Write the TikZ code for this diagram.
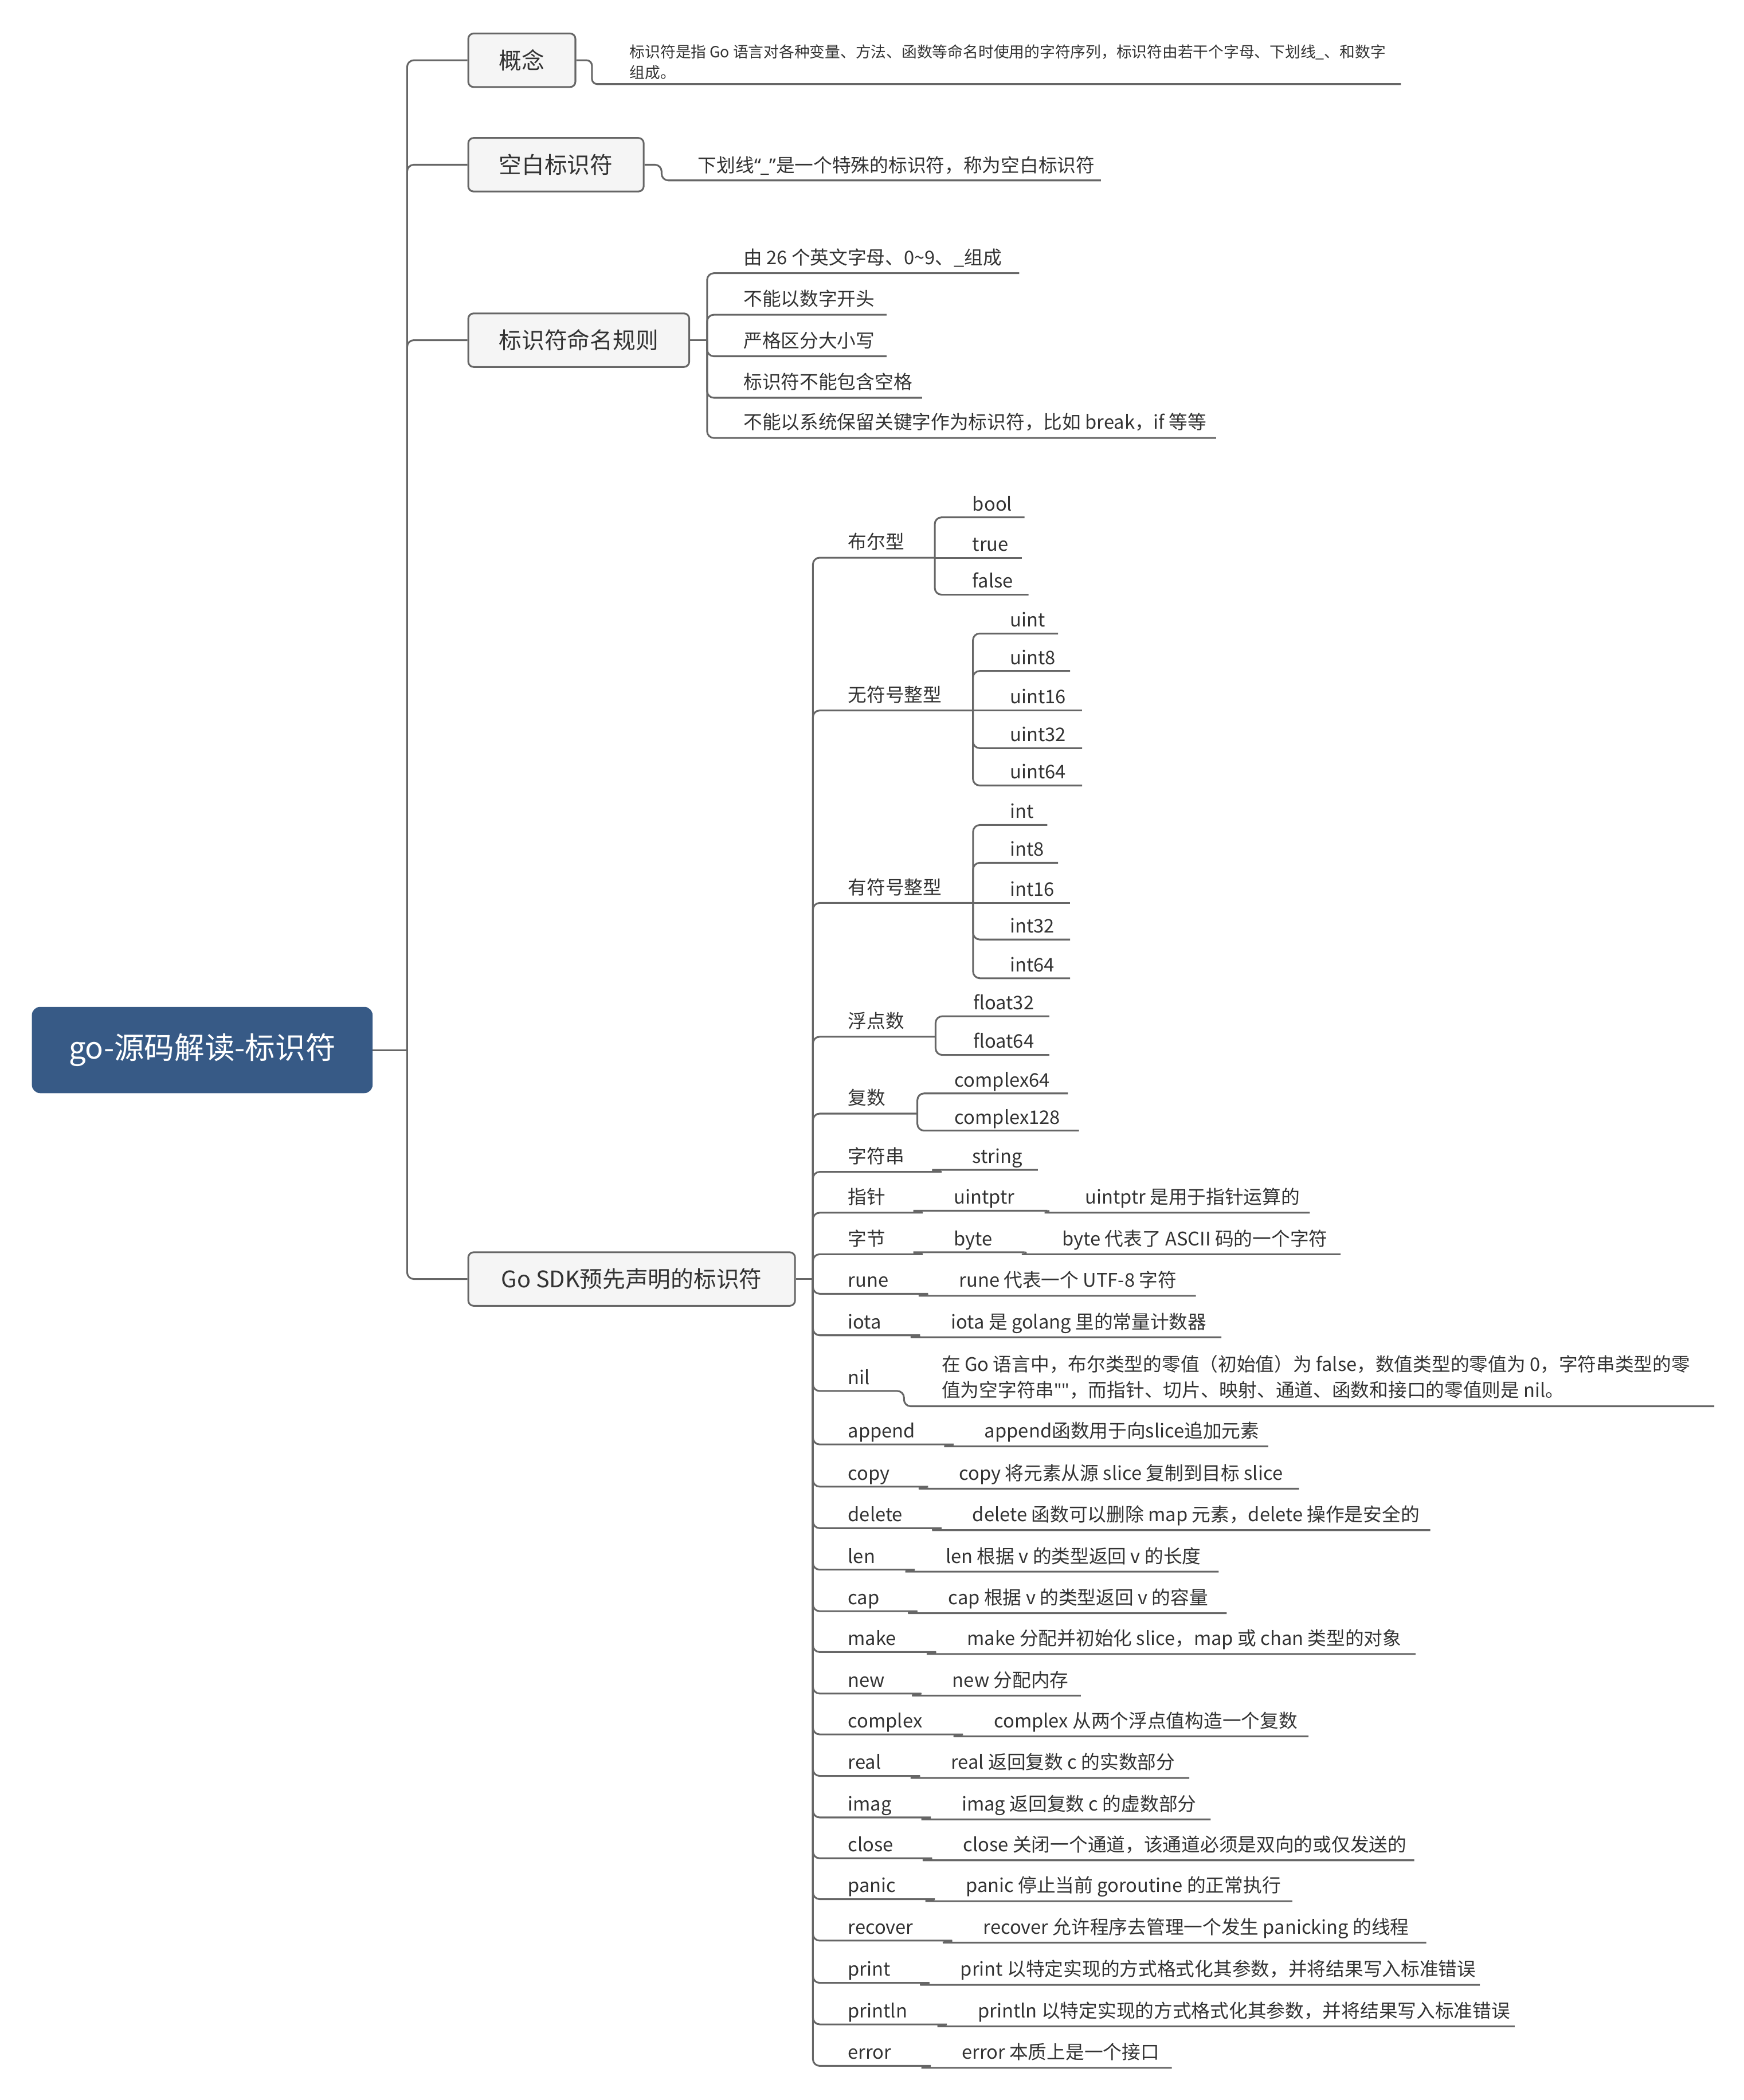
\documentclass[tikz,border=0pt]{standalone}
\usepackage{fontspec}
\setmainfont{Noto Sans CJK SC}[Ligatures=TeXOff]
\newfontfamily\latinq{Noto Sans}

\definecolor{linegray}{HTML}{666666}
\definecolor{boxfill}{HTML}{F5F5F5}
\definecolor{inkgray}{HTML}{333333}
\definecolor{rootblue}{HTML}{375A86}

\tikzset{
  conn/.style={draw=linegray, line width=1.3pt, rounded corners=5pt},
  rootbox/.style={fill=rootblue, draw=rootblue, rounded corners=6pt,
    minimum width=254pt, minimum height=64pt, inner sep=0pt,
    text=white, font=\fontsize{22.5}{26}\selectfont},
  topic/.style={anchor=west, fill=boxfill, draw=linegray, line width=1.3pt,
    rounded corners=4pt, minimum height=40pt, inner xsep=14pt, inner ysep=0pt,
    text=inkgray, font=\fontsize{17}{20}\selectfont},
  leaf/.style={anchor=base west, inner sep=0pt, text=inkgray,
    font=\fontsize{14}{17}\selectfont},
  note/.style={anchor=base west, inner sep=0pt, text=inkgray,
    font=\fontsize{11.45}{14}\selectfont},
}

% a child of a sub-group: text, underline end, connector from the group hub
\newcommand\subleaf[6]{%
  \node[leaf] (#1) at (#3,#4-5) {#6};
  \coordinate (#1-e) at (#5,#4);
  \draw[conn] (#2) |- (#1-e);
}
% same, for the child level with the hub
\newcommand\subleafflat[6]{%
  \node[leaf] (#1) at (#3,#4-5) {#6};
  \coordinate (#1-e) at (#5,#4);
  \draw[conn] (#2) -- (#1-e);
}
% a keyword row: label, its explanation, and the underline joining them
% #1 id, #2 centre y, #3 label, #4 label underline offset, #5 text x,
% #6 text, #7 underline end, #8 text underline offset
\newcommand\kvrow[8]{%
  \pgfmathsetmacro\rowb{#2+5}%
  \pgfmathsetmacro\rowl{#2+5+#4}%
  \pgfmathsetmacro\rowd{#2+5+#8}%
  \pgfmathsetmacro\rowj{#5-28}%
  \pgfmathsetmacro\rowk{#5-25}%
  \node[leaf] (#1) at (633,\rowb) {#3};
  \node[leaf] (#1-d) at (#5,\rowb) {#6};
  \coordinate (#1-j) at (\rowj,\rowl);
  \coordinate (#1-k) at (\rowk,\rowd);
  \coordinate (#1-e) at (#7,\rowd);
  \draw[conn] (shub) |- (#1-j) .. controls +(2,0) and +(-2,0) .. (#1-k) -- (#1-e);
}

\begin{document}
\begin{tikzpicture}[x=1pt,y=-1pt]
\fill[white] (0,0) rectangle (1302,1568);
\useasboundingbox (0,0) rectangle (1302,1568);

% ---------- root and main topics ----------
\node[rootbox] (root) at (151,784) {go-源码解读-标识符};
\coordinate (hub0) at (304,784);

\node[topic, minimum width=80pt]  (concept) at (349,45)  {概念};
\node[topic, minimum width=131pt] (blank)   at (349,123) {空白标识符};
\node[topic, minimum width=165pt] (rules)   at (349,254) {标识符命名规则};
\node[topic, minimum width=244pt] (sdk)     at (349,955) {Go SDK预先声明的标识符};

\draw[conn] (root.east) -- (hub0);
\foreach \t in {concept,blank,rules,sdk}
  \draw[conn] (hub0) |- (\t.west);

% ---------- 概念 ----------
\coordinate (concept-t) at (442,45);
\coordinate (concept-e) at (1046,62.8);
\node[note] (concept-d1) at (470,42.9) {标识符是指 Go 语言对各种变量、方法、函数等命名时使用的字符序列，标识符由若干个字母、下划线\_、和数字};
\node[note] (concept-d2) at (470,58.6) {组成。};
\draw[conn, rounded corners=4pt] (concept.east) -- (concept-t) |- (concept-e);

% ---------- 空白标识符 ----------
\coordinate (blank-t) at (494,123);
\coordinate (blank-e) at (822,134.7);
\node[leaf] (blank-d) at (521,128.4) {下划线{\latinq “\_”}是一个特殊的标识符，称为空白标识符};
\draw[conn] (blank.east) -- (blank-t) |- (blank-e);

% ---------- 标识符命名规则 ----------
\coordinate (rhub) at (528,254);
\draw[conn] (rules.east) -- (rhub);
\node[leaf] (r1) at (555,197.5) {由 26 个英文字母、0\textasciitilde 9、\_组成};
\node[leaf] (r2) at (555,228.5) {不能以数字开头};
\node[leaf] (r3) at (555,259.5) {严格区分大小写};
\node[leaf] (r4) at (555,290.5) {标识符不能包含空格};
\node[leaf] (r5) at (555,320.5) {不能以系统保留关键字作为标识符，比如 break，if 等等};
\coordinate (r1-e) at (761,204);
\coordinate (r2-e) at (662,235);
\coordinate (r3-e) at (662,266);
\coordinate (r4-e) at (688.5,297);
\coordinate (r5-e) at (908,327);
\foreach \r in {r1,r2,r3,r4,r5}
  \draw[conn] (rhub) |- (\r-e);

% ---------- Go SDK 预先声明的标识符 ----------
\coordinate (shub) at (607,955);
\draw[conn] (sdk.east) -- (shub);

% 布尔型
\coordinate (g1-j) at (698,416.4);
\node[leaf] (g1) at (633,409.9) {布尔型};
\draw[conn] (shub) |- (g1-j);
\subleaf{b-bool}{g1-j}{726}{386.3}{765}{bool}
\subleafflat{b-true}{g1-j}{726}{416.4}{763}{true}
\subleaf{b-false}{g1-j}{726}{444}{768}{false}

% 无符号整型
\coordinate (g2-j) at (726.5,530.5);
\node[leaf] (g2) at (633,524) {无符号整型};
\draw[conn] (shub) |- (g2-j);
\subleaf{u-0}{g2-j}{754}{473}{790}{uint}
\subleaf{u-8}{g2-j}{754}{501}{799}{uint8}
\subleafflat{u-16}{g2-j}{754}{530.5}{808}{uint16}
\subleaf{u-32}{g2-j}{754}{558.6}{808}{uint32}
\subleaf{u-64}{g2-j}{754}{586.5}{808}{uint64}

% 有符号整型
\coordinate (g3-j) at (726.6,674.2);
\node[leaf] (g3) at (633,667.7) {有符号整型};
\draw[conn] (shub) |- (g3-j);
\subleaf{i-0}{g3-j}{754}{616}{782}{int}
\subleaf{i-8}{g3-j}{754}{644.2}{790}{int8}
\subleafflat{i-16}{g3-j}{754}{674.2}{799}{int16}
\subleaf{i-32}{g3-j}{754}{701.5}{799}{int32}
\subleaf{i-64}{g3-j}{754}{730.4}{799}{int64}

% 浮点数
\coordinate (g4-j) at (698.6,774.1);
\node[leaf] (g4) at (633,767.6) {浮点数};
\draw[conn] (shub) |- (g4-j);
\subleaf{f-32}{g4-j}{726.6}{758.8}{783.5}{float32}
\subleaf{f-64}{g4-j}{726.6}{787.7}{783.5}{float64}

% 复数
\coordinate (g5-j) at (685,831.5);
\node[leaf] (g5) at (633,825) {复数};
\draw[conn] (shub) |- (g5-j);
\subleaf{c-64}{g5-j}{712.7}{816.4}{797.4}{complex64}
\subleaf{c-128}{g5-j}{712.7}{844.2}{805.6}{complex128}

% 字符串 / 指针 / 字节
\kvrow{str}{863.5}{字符串}{6.5}{726}{string}{775}{5}
\kvrow{ptr}{894}{指针}{6.5}{712}{uintptr}{782}{5}
\node[leaf] (ptr-dd) at (810,899) {uintptr 是用于指针运算的};
\coordinate (ptr-k2) at (785,905.5);
\coordinate (ptr-e2) at (978,905.5);
\draw[conn] (ptr-e) .. controls +(2,0) and +(-2,0) .. (ptr-k2) -- (ptr-e2);
\kvrow{byte}{925}{字节}{6.5}{712}{byte}{765}{5}
\node[leaf] (byte-dd) at (793,930) {byte 代表了 ASCII 码的一个字符};
\coordinate (byte-k2) at (768,936.5);
\coordinate (byte-e2) at (1001,936.5);
\draw[conn] (byte-e) .. controls +(2,0) and +(-2,0) .. (byte-k2) -- (byte-e2);

\kvrow{rune}{956}{rune}{5}{716}{rune 代表一个 UTF-8 字符}{893}{6.5}
\kvrow{iota}{987}{iota}{5}{710}{iota 是 golang 里的常量计数器}{912}{6.5}

% nil
\node[leaf] (nil) at (633,1033.6) {nil};
\node[leaf] (nil-d1) at (703,1024) {在 Go 语言中，布尔类型的零值（初始值）为 false，数值类型的零值为 0，字符串类型的零};
\node[leaf] (nil-d2) at (703,1043.2) {值为空字符串{\latinq ""}，而指针、切片、映射、通道、函数和接口的零值则是 nil。};
\coordinate (nil-j) at (675,1038.6);
\coordinate (nil-e) at (1280,1050);
\draw[conn] (shub) |- (nil-j) |- (nil-e);

\kvrow{append}{1068.5}{append}{5}{735}{append函数用于向slice追加元素}{947}{6.5}
\kvrow{copy}{1100}{copy}{5}{716}{copy 将元素从源 slice 复制到目标 slice}{970}{6.5}
\kvrow{delete}{1131}{delete}{5}{726}{delete 函数可以删除 map 元素，delete 操作是安全的}{1068}{6.5}
\kvrow{len}{1162}{len}{5}{706}{len 根据 v 的类型返回 v 的长度}{910}{6.5}
\kvrow{cap}{1193}{cap}{5}{708}{cap 根据 v 的类型返回 v 的容量}{916}{6.5}
\kvrow{make}{1223.5}{make}{5}{722}{make 分配并初始化 slice，map 或 chan 类型的对象}{1057}{6.5}
\kvrow{new}{1254.5}{new}{5}{711}{new 分配内存}{807}{6.5}
\kvrow{complex}{1285}{complex}{5}{742}{complex 从两个浮点值构造一个复数}{977}{6.5}
\kvrow{real}{1316}{real}{5}{710}{real 返回复数 c 的实数部分}{888}{6.5}
\kvrow{imag}{1347}{imag}{5}{718}{imag 返回复数 c 的虚数部分}{904}{6.5}
\kvrow{close}{1377.5}{close}{5}{719}{close 关闭一个通道，该通道必须是双向的或仅发送的}{1056}{6.5}
\kvrow{panic}{1408}{panic}{5}{721}{panic 停止当前 goroutine 的正常执行}{965}{6.5}
\kvrow{recover}{1439}{recover}{5}{734}{recover 允许程序去管理一个发生 panicking 的线程}{1065}{6.5}
\kvrow{print}{1470.5}{print}{5}{717}{print 以特定实现的方式格式化其参数，并将结果写入标准错误}{1105}{6.5}
\kvrow{println}{1501.5}{println}{5}{730}{println 以特定实现的方式格式化其参数，并将结果写入标准错误}{1131}{6.5}
\kvrow{error}{1532.5}{error}{5}{718}{error 本质上是一个接口}{875}{6.5}

\end{tikzpicture}
\end{document}
